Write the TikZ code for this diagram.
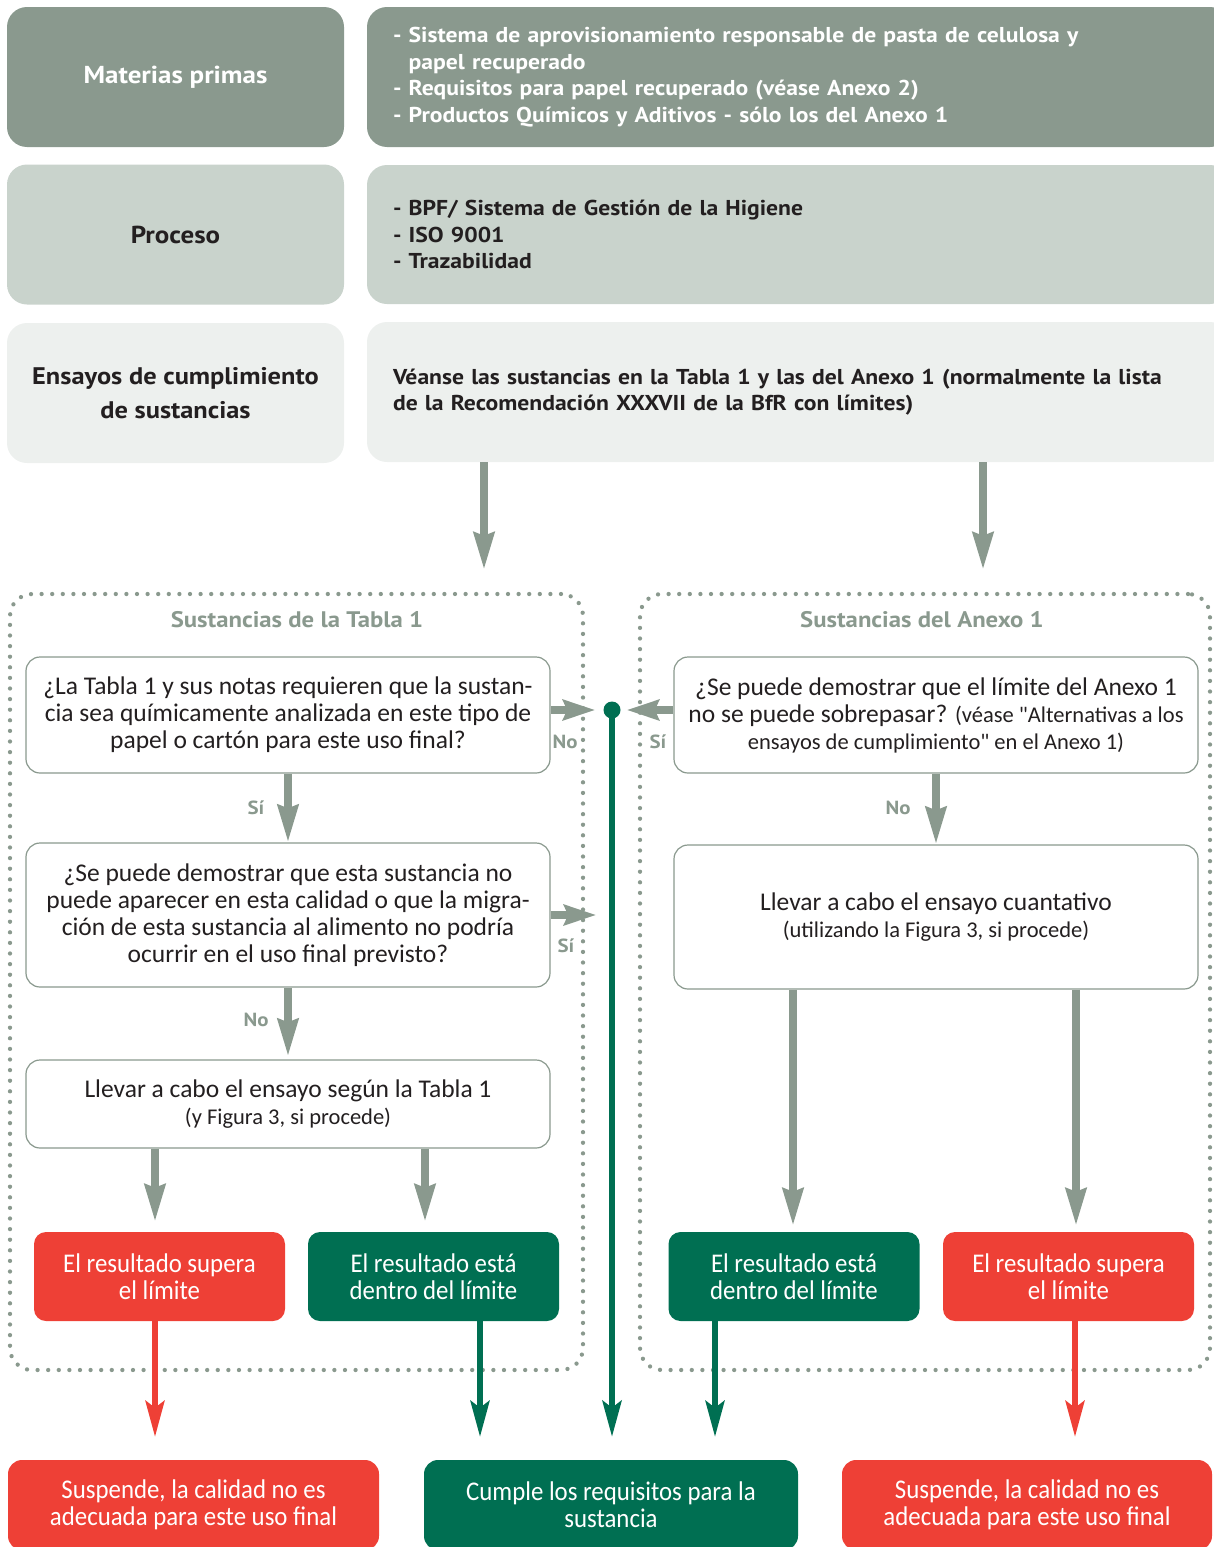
\documentclass[tikz,border=0pt]{standalone}
\usepackage{fontspec}
\setmainfont{Carlito}
\newfontfamily\hdfont[FakeStretch=1.1]{PT Sans}
\newfontfamily\bodyfont{Carlito}
\newfontfamily\condfont[FakeStretch=0.92]{Carlito}
\usetikzlibrary{arrows.meta,calc}
\definecolor{sgray}{HTML}{8A998E}
\definecolor{lgray}{HTML}{C9D3CC}
\definecolor{pgray}{HTML}{EDF0EE}
\definecolor{tdark}{HTML}{231F20}
\definecolor{sred}{HTML}{EE4036}
\definecolor{sgreen}{HTML}{006F52}
\begin{document}
\begin{tikzpicture}[x=1pt,y=-1pt,
  hdbox/.style={rounded corners=20pt, inner sep=0pt, minimum height=140pt, minimum width=337pt, align=center,
     font=\hdfont\bfseries\fontsize{24.5}{26}\selectfont},
  hdwide/.style={rounded corners=20pt, inner ysep=0pt, inner xsep=26pt, minimum height=140pt, text width=811pt, align=left,
     font=\hdfont\bfseries\fontsize{21.5}{26.5}\selectfont},
  grp/.style={draw=sgray, line width=4.3pt, dash pattern=on 0pt off 10.6pt, line cap=round, rounded corners=22pt, inner sep=0pt},
  grptitle/.style={font=\hdfont\bfseries\fontsize{22.5}{24}\selectfont, text=sgray},
  qbox/.style={draw=sgray, line width=1.2pt, fill=white, rounded corners=14pt, minimum width=524pt, inner sep=0pt, align=center,
     font=\bodyfont\fontsize{25.5}{27}\selectfont, text=tdark},
  small/.style={},
  resbox/.style={rounded corners=12pt, minimum width=251pt, minimum height=89pt, inner sep=0pt, text=white, align=center,
     font=\condfont\fontsize{27}{27}\selectfont},
  botbox/.style={rounded corners=14pt, minimum height=90pt, inner sep=0pt, text=white, align=center,
     font=\condfont\fontsize{27}{27}\selectfont},
  lbl/.style={font=\hdfont\bfseries\fontsize{19}{19}\selectfont, text=sgray},
  garrow/.style={draw=sgray, line width=8pt, -{Stealth[length=37pt,width=20pt,inset=3pt]}},
  garrowh/.style={draw=sgray, line width=8pt, -{Stealth[length=32pt,width=20pt,inset=4pt]}},
  rarrow/.style={draw=sred, line width=5.5pt, -{Stealth[length=36pt,width=19pt,inset=7pt]}},
  karrow/.style={draw=sgreen, line width=5.5pt, -{Stealth[length=36pt,width=19pt,inset=7pt]}},
]
\newcommand\smtxt[1]{{\fontsize{22.5}{27}\selectfont #1}}
\useasboundingbox (0,0) rectangle (1213,1547);

% header boxes
\node[hdbox, fill=sgray, text=white] (mat) at (175.5,77) {Materias primas};
\node[hdwide, fill=sgray, text=white] (matR) at (798.5,77) {- Sistema de aprovisionamiento responsable de pasta de celulosa y\\\phantom{- }papel recuperado\\- Requisitos para papel recuperado (véase Anexo 2)\\- Productos Químicos y Aditivos - sólo los del Anexo 1};
\node[hdbox, fill=lgray, text=tdark] (pro) at (175.5,234.5) {Proceso};
\node[hdwide, fill=lgray, text=tdark, minimum height=139pt] (proR) at (798.5,234.5) {- BPF/ Sistema de Gestión de la Higiene\\- ISO 9001\\- Trazabilidad};
\node[hdbox, fill=pgray, text=tdark, font=\hdfont\bfseries\fontsize{24}{34}\selectfont] (ens) at (175.5,393) {Ensayos de cumplimiento\\de sustancias};
\node[hdwide, fill=pgray, text=tdark] (ensR) at (798.5,392) {Véanse las sustancias en la Tabla 1 y las del Anexo 1 (normalmente la lista\\de la Recomendación XXXVII de la BfR con límites)};

% groups
\node[grp, minimum width=573pt, minimum height=776pt] (grpL) at (296.5,982) {};
\node[grp, minimum width=570pt, minimum height=776pt] (grpR) at (925,982) {};
\node[grptitle] (tL) at (297,620) {Sustancias de la Tabla 1};
\node[grptitle] (tR) at (922,620) {Sustancias del Anexo 1};

% question boxes
\node[qbox, minimum height=116pt] (q1) at (288,715) {¿La Tabla 1 y sus notas requieren que la sustan-\\cia sea químicamente analizada en este tipo de\\papel o cartón para este uso final?};
\node[qbox, minimum height=144pt] (q2) at (288,915) {¿Se puede demostrar que esta sustancia no\\puede aparecer en esta calidad o que la migra-\\ción de esta sustancia al alimento no podría\\ocurrir en el uso final previsto?};
\node[qbox, minimum height=88pt] (ll) at (288,1104) {Llevar a cabo el ensayo según la Tabla 1\\\smtxt{(y Figura 3, si procede)}};
\node[qbox, minimum height=116pt] (q3) at (936,715) {¿Se puede demostrar que el límite del Anexo 1\\no se puede sobrepasar? \smtxt{(véase "Alternativas a los}\\\smtxt{ensayos de cumplimiento" en el Anexo 1)}};
\node[qbox, minimum height=144pt] (cu) at (936,917) {Llevar a cabo el ensayo cuantativo\\\smtxt{(utilizando la Figura 3, si procede)}};

% result boxes
\node[resbox, fill=sred] (r1) at (159.5,1276.5) {El resultado supera\\el límite};
\node[resbox, fill=sgreen] (r2) at (433.5,1276.5) {El resultado está\\dentro del límite};
\node[resbox, fill=sgreen] (r3) at (794,1276.5) {El resultado está\\dentro del límite};
\node[resbox, fill=sred] (r4) at (1068.5,1276.5) {El resultado supera\\el límite};

% bottom boxes
\node[botbox, fill=sred, minimum width=371pt] (b1) at (193.5,1505) {Suspende, la calidad no es\\adecuada para este uso final};
\node[botbox, fill=sgreen, minimum width=374pt] (b2) at (611,1505) {Cumple los requisitos para la\\sustancia};
\node[botbox, fill=sred, minimum width=370pt] (b3) at (1027,1505) {Suspende, la calidad no es\\adecuada para este uso final};

% junction dot
\node[circle, fill=sgreen, inner sep=0pt, minimum size=17pt] (dot) at (612,710) {};

% top arrows
\draw[garrow, shorten >=22pt] ([xshift=-314.5pt]ensR.south) -- ([xshift=-314.5pt]ensR.south |- grpL.north);
\draw[garrow, shorten >=22pt] ([xshift=184.5pt]ensR.south) -- ([xshift=184.5pt]ensR.south |- grpR.north);

% flow arrows
\draw[garrowh, shorten >=8pt] (q1.east |- dot) -- (dot.west);
\draw[garrowh, shorten >=6pt] (q3.west |- dot) -- (dot.east);
\draw[garrowh, shorten >=7pt] (q2.east) -- (q2.east -| dot.west);
\draw[garrow] (q1.south) -- (q2.north);
\draw[garrow, shorten >=3pt] (q2.south) -- (ll.north);
\draw[garrow] (q3.south) -- (cu.north);
\draw[garrow, shorten >=10pt] ([xshift=-4.5pt]r1.north |- ll.south) -- ([xshift=-4.5pt]r1.north);
\draw[garrow, shorten >=10pt] ([xshift=-8.5pt]r2.north |- ll.south) -- ([xshift=-8.5pt]r2.north);
\draw[garrow, shorten >=6pt] ([xshift=-1pt]r3.north |- cu.south) -- ([xshift=-1pt]r3.north);
\draw[garrow, shorten >=6pt] ([xshift=7.5pt]r4.north |- cu.south) -- ([xshift=7.5pt]r4.north);

% labels
\node[lbl] (lno1) at (565,742) {No};
\node[lbl] (lsi1) at (658,742) {Sí};
\node[lbl] (lsi2) at (256,808) {Sí};
\node[lbl] (lsi3) at (566,946) {Sí};
\node[lbl] (lno2) at (256,1020) {No};
\node[lbl] (lno3) at (898,808) {No};

% outcome arrows
\draw[rarrow, shorten >=23pt] ([xshift=-4.5pt]r1.south) -- ([xshift=-4.5pt]r1.south |- b1.north);
\draw[karrow, shorten >=23pt] ([xshift=46.5pt]r2.south) -- ([xshift=46.5pt]r2.south |- b2.north);
\draw[karrow, shorten >=23pt] ([xshift=-79pt]r3.south) -- ([xshift=-79pt]r3.south |- b2.north);
\draw[rarrow, shorten >=23pt] ([xshift=6.5pt]r4.south) -- ([xshift=6.5pt]r4.south |- b3.north);
\draw[karrow, line width=6pt, shorten >=23pt] (dot.center) -- (dot.center |- b2.north);
\end{tikzpicture}
\end{document}
